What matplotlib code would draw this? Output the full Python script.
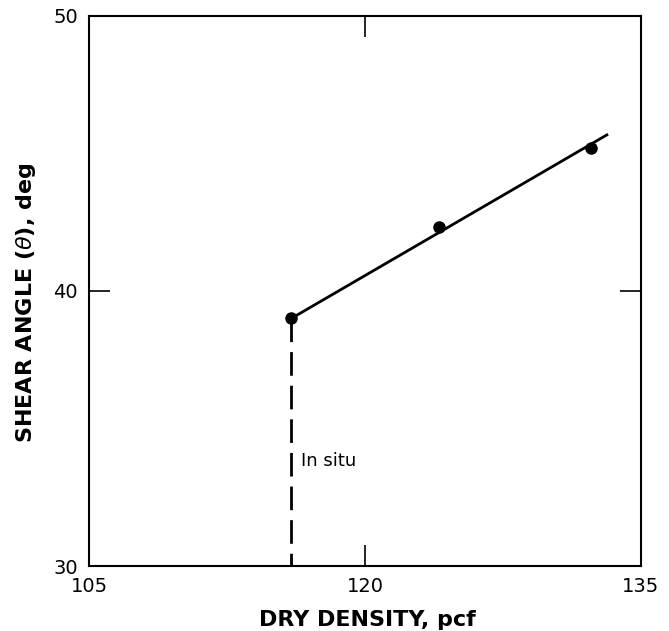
import matplotlib
matplotlib.use("Agg")
import matplotlib.pyplot as plt

# Data
density = [116.0, 124.0, 132.3]
shear_angle = [39.0, 42.33, 45.2]
fit_x = [116.0, 133.15]
fit_y = [39.0, 45.67]
insitu_x = [116.0, 116.0]
insitu_y = [39.0, 30.0]
xticks = [105, 120, 135]
yticks = [30, 40, 50]

fig = plt.figure(figsize=(6.69, 6.31), dpi=100)
ax = fig.add_axes([0.133, 0.103, 0.825, 0.872])

ax.plot(fit_x, fit_y, color="black", lw=2.0, zorder=2)
ax.plot(density, shear_angle, "o", color="black", ms=8, zorder=3)
ax.plot(insitu_x, insitu_y, color="black", lw=2.0,
        dashes=(8.5, 3.6), zorder=2)
ax.text(116.55, 33.8, "In situ", fontsize=13, family="DejaVu Sans",
        va="center", ha="left")

ax.set_xlim(105, 135)
ax.set_ylim(30, 50)
ax.set_xticks(xticks)
ax.set_yticks(yticks)
ax.tick_params(direction="in", length=15, width=1.2, top=True, right=True,
               labelsize=14, pad=8)
for lab in ax.get_xticklabels() + ax.get_yticklabels():
    lab.set_family("DejaVu Sans")
for s in ax.spines.values():
    s.set_linewidth(1.5)

ax.set_xlabel("DRY DENSITY, pcf", fontsize=16, fontweight="bold",
              family="DejaVu Sans")
ax.set_ylabel(r"SHEAR ANGLE ($\theta$), deg", fontsize=16, fontweight="bold",
              family="DejaVu Sans")
ax.xaxis.set_label_coords(0.505, -0.08)
ax.yaxis.set_label_coords(-0.093, 0.478)

fig.savefig("out.png", dpi=100)
